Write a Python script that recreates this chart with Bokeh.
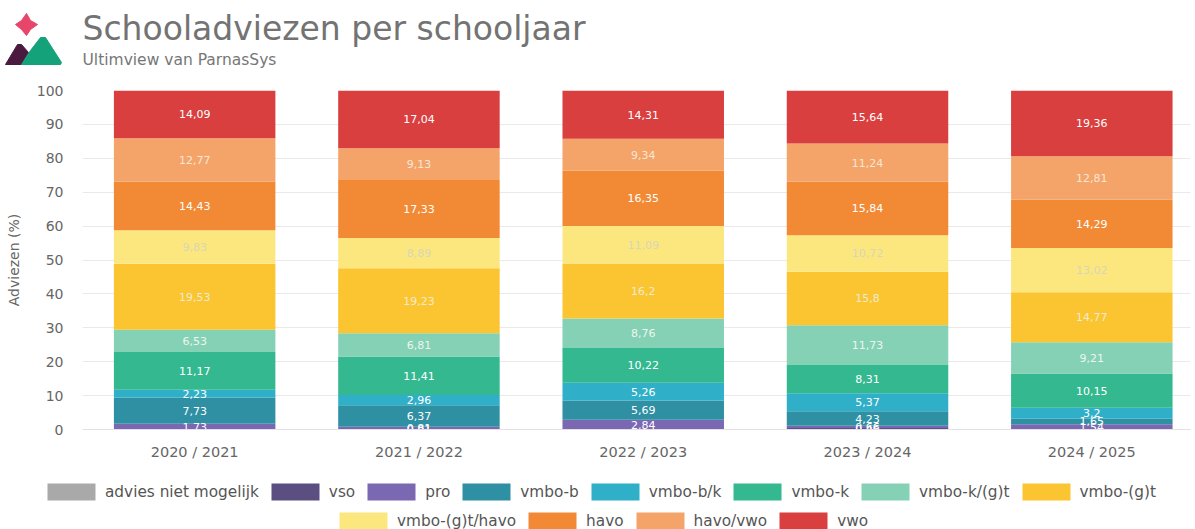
from bokeh.plotting import figure
from bokeh.embed import file_html
from bokeh.resources import INLINE
from bokeh.layouts import column
from bokeh.models import ColumnDataSource, Legend, LegendItem, FixedTicker
from bokeh.core.properties import value

title_text = "Schooladviezen per schooljaar"
subtitle_text = "Ultimview van ParnasSys"
years = ["2020 / 2021", "2021 / 2022", "2022 / 2023", "2023 / 2024", "2024 / 2025"]
series = ["advies niet mogelijk", "vso", "pro", "vmbo-b", "vmbo-b/k", "vmbo-k", "vmbo-k/(g)t",
          "vmbo-(g)t", "vmbo-(g)t/havo", "havo", "havo/vwo", "vwo"]
colors = ["#a9a9a9", "#5b4f82", "#7a68b3", "#2f8fa3", "#2fb0c8", "#33b88f", "#84d1b6",
          "#fbc531", "#fce77f", "#f28a35", "#f4a468", "#d93f3f"]
label_colors = ["#ffffff"] * 6 + ["#eef5ee", "#f0ead0", "#d8d6b8", "#ffffff", "#f6e6d6", "#ffffff"]

niet_mogelijk = [0.0, 0.0, 0.0, 0.0, 0.0]
vso = [0.0, 0.01, 0.0, 0.46, 0.0]
pro = [1.73, 0.81, 2.84, 0.66, 1.54]
vmbo_b = [7.73, 6.37, 5.69, 4.23, 1.65]
vmbo_bk = [2.23, 2.96, 5.26, 5.37, 3.2]
vmbo_k = [11.17, 11.41, 10.22, 8.31, 10.15]
vmbo_kgt = [6.53, 6.81, 8.76, 11.73, 9.21]
vmbo_gt = [19.53, 19.23, 16.2, 15.8, 14.77]
vmbo_gth = [9.83, 8.89, 11.09, 10.72, 13.02]
havo = [14.43, 17.33, 16.35, 15.84, 14.29]
havo_vwo = [12.77, 9.13, 9.34, 11.24, 12.81]
vwo = [14.09, 17.04, 14.31, 15.64, 19.36]
values = [niet_mogelijk, vso, pro, vmbo_b, vmbo_bk, vmbo_k, vmbo_kgt, vmbo_gt, vmbo_gth, havo, havo_vwo, vwo]

FONT = "DejaVu Sans"
xs = list(range(len(years)))

# header: logo, title, subtitle
h = figure(width=1195, height=72, output_backend="svg", toolbar_location=None,
           x_range=(0, 1195), y_range=(72, 0), min_border=0, outline_line_color=None, frame_align=False)
h.axis.visible = False
h.grid.visible = False
logo_colors = ["#e8456b", "#4a1b3f", "#14a27a"]
logo_xs = [[26, 30, 37, 30, 26, 21, 15, 21], [5, 17, 21, 28, 21], [21, 30, 40, 45, 52, 61, 60]]
logo_ys = [[13, 20, 24, 29, 35, 29, 24, 20], [64, 44, 44, 52, 64], [64, 50, 37, 37, 48, 62, 64]]
h.patches(logo_xs, logo_ys, fill_color=logo_colors, line_color=logo_colors)
h.text(x=[82], y=[28], text=[title_text], text_font=value(FONT), text_font_size="33px",
       text_color="#737373", text_baseline="middle")
h.text(x=[82], y=[59], text=[subtitle_text], text_font=value(FONT), text_font_size="15.5px",
       text_color="#777777", text_baseline="middle")

p = figure(width=1195, height=388, output_backend="svg", toolbar_location=None,
           x_range=(-0.5, 4.44), y_range=(0, 100),
           min_border_left=82, min_border_right=5, min_border_top=18, min_border_bottom=31,
           frame_height=339, outline_line_color=None, frame_align=False)

bottoms = [0.0] * len(years)
lx, ly, lt, lc = [], [], [], []
for name, col, tcol, vals in zip(series, colors, label_colors, values):
    tops = [b + v for b, v in zip(bottoms, vals)]
    src = ColumnDataSource(dict(x=xs, bottom=bottoms, top=tops))
    p.vbar(x="x", bottom="bottom", top="top", width=0.72, source=src, fill_color=col, line_color=None)
    for i, v in enumerate(vals):
        if v > 0:
            lx.append(i)
            ly.append((bottoms[i] + tops[i]) / 2)
            lt.append(f"{v:g}".replace(".", ","))
            lc.append(tcol)
    bottoms = tops

p.text(x=lx, y=ly, text=lt, text_color=lc, text_font=value(FONT),
       text_font_size="11px", text_align="center", text_baseline="middle")

p.xgrid.visible = False
p.ygrid.grid_line_color = "#e9e9e9"
p.ygrid.ticker = FixedTicker(ticks=list(range(0, 101, 10)))
p.yaxis.ticker = FixedTicker(ticks=list(range(0, 101, 10)))
p.yaxis.axis_line_color = None
p.yaxis.major_tick_line_color = None
p.yaxis.minor_tick_line_color = None
p.yaxis.major_label_text_color = "#666666"
p.yaxis.major_label_text_font = FONT
p.yaxis.major_label_text_font_size = "14px"
p.yaxis.major_label_standoff = 13
p.yaxis.axis_label = "Adviezen (%)"
p.yaxis.axis_label_text_font = FONT
p.yaxis.axis_label_text_font_style = "normal"
p.yaxis.axis_label_text_font_size = "14px"
p.yaxis.axis_label_text_color = "#666666"
p.yaxis.axis_label_standoff = 12

p.xaxis.ticker = FixedTicker(ticks=xs)
p.xaxis.major_label_overrides = dict(zip(xs, years))
p.xaxis.axis_line_color = "#e6dfe6"
p.xaxis.major_tick_line_color = None
p.xaxis.minor_tick_line_color = None
p.xaxis.major_label_text_color = "#666666"
p.xaxis.major_label_text_font = FONT
p.xaxis.major_label_text_font_size = "14.5px"
p.xaxis.major_label_standoff = 8

# footer: the legend, in its own figure so that it is not clipped by the chart's frame.
# Its swatch renderers lie outside the footer's range: only the legend shows them.
f = figure(width=1195, height=69, output_backend="svg", toolbar_location=None,
           x_range=(0, 1), y_range=(0, 1), min_border=0, outline_line_color=None, frame_align=False)
f.axis.visible = False
f.grid.visible = False
swatches = [f.vbar(x=[-5], top=[-5], width=1, fill_color=c, line_color=None) for c in colors]


def legend_row(idx, x, y):
    items = [LegendItem(label=series[i], renderers=[swatches[i]]) for i in idx]
    leg = Legend(items=items, orientation="horizontal", location=(x, y),
                 background_fill_alpha=0, border_line_color=None,
                 glyph_width=60, glyph_height=21, label_standoff=4, spacing=6,
                 padding=0, margin=0,
                 label_text_font=FONT, label_text_font_size="15.3px", label_text_color="#555555")
    f.add_layout(leg, "center")


legend_row(range(0, 8), 41, 29)
legend_row(range(8, 12), 333, 0)

open("out.html", "w").write(file_html(column(h, p, f, spacing=0), INLINE))
